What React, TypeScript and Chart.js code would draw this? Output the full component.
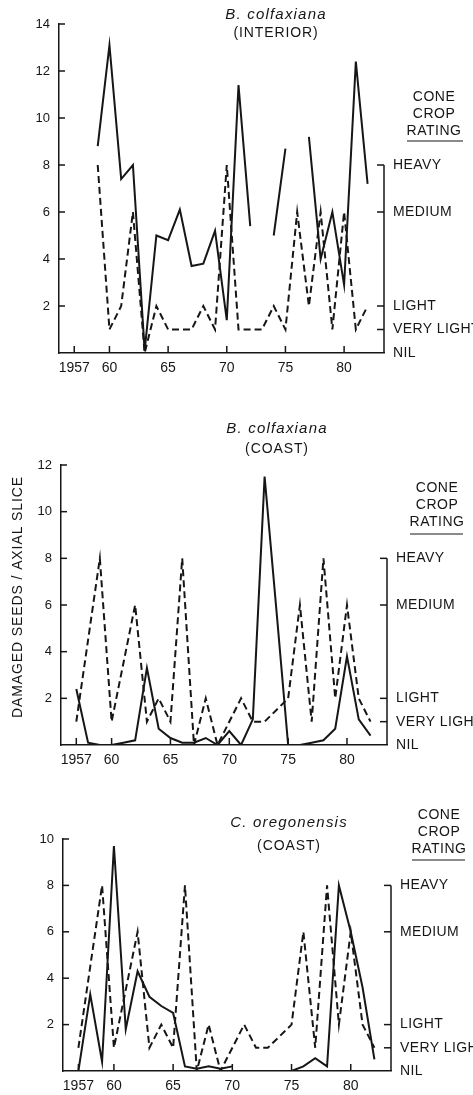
import React, { useEffect, useRef } from "react";
import { Chart, registerables } from "chart.js";
Chart.register(...registerables);

// ---- DATA ----
const years = [1957, 1958, 1959, 1960, 1961, 1962, 1963, 1964, 1965, 1966, 1967, 1968, 1969, 1970, 1971, 1972, 1973, 1974, 1975, 1976, 1977, 1978, 1979, 1980, 1981, 1982];
const xTickYears = [1957, 1960, 1965, 1970, 1975, 1980];
const cropRatingValues = [0, 1, 2, 6, 8];
const cropRatingLabels = ["NIL", "VERY LIGHT", "LIGHT", "MEDIUM", "HEAVY"];

// B. colfaxiana (interior): damaged seeds / axial slice (solid) and cone crop rating (dashed)
const interiorDamage = [null, null, 8.8, 13.1, 7.4, 8.0, 0.1, 5.0, 4.8, 6.1, 3.7, 3.8, 5.2, 1.4, 11.4, 5.4, null, 5.0, 8.7, null, 9.2, 4.0, 6.0, 2.9, 12.4, 7.2];
const interiorCrop = [null, null, 8, 1, 2, 6, 0, 2, 1, 1, 1, 2, 1, 8, 1, 1, 1, 2, 1, 6, 2, 6, 1, 6, 1, 2];

// B. colfaxiana (coast)
const coastDamage = [2.4, 0.1, 0, 0, 0.1, 0.2, 3.3, 0.7, 0.3, 0.1, 0.1, 0.3, 0, 0.6, 0, 1.1, 11.5, 5.8, 0, 0, 0.1, 0.2, 0.7, 3.8, 1.1, 0.4];
const coastCrop = [1, null, 8, 1, null, 6, 1, 2, 1, 8, 0, 2, 0, null, 2, 1, 1, null, 2, 6, 1, 8, 2, 6, 2, 1];

// C. oregonensis (coast)
const oregonDamage = [0, 3.3, 0.4, 9.7, 1.8, 4.3, 3.2, 2.8, 2.5, 0.2, 0.1, 0.2, 0.1, 0.2, null, 0, 0, 0, 0, 0.2, 0.55, 0.2, 8.0, 6.0, 3.6, 0.5];
const oregonCrop = [1, null, 8, 1, null, 6, 1, 2, 1, 8, 0, 2, 0, null, 2, 1, 1, null, 2, 6, 1, 8, 2, 6, 2, 1];

const titles1 = ["B. colfaxiana", "(INTERIOR)"];
const titles2 = ["B. colfaxiana", "(COAST)"];
const titles3 = ["C. oregonensis", "(COAST)"];
const coneLabel = ["CONE", "CROP", "RATING"];
const yAxisTitle = "DAMAGED SEEDS / AXIAL SLICE";

const FONT = '"Liberation Sans", Arial, Helvetica, sans-serif';
const INK = "#161616";

type Panel = {
  top: number; height: number; left: number; right: number; yTop: number; yZero: number; yMax: number;
  titles: string[]; titleX: number; titleY: number[]; coneX: number; coneY: number[]; ulY: number; ulX: number[];
  damage: (number | null)[]; crop: (number | null)[]; yTitle?: { x: number; y: number };
};

const panels: Panel[] = [
  { top: 0, height: 380, left: 59, right: 384, yTop: 24, yZero: 353, yMax: 14, titles: titles1, titleX: 276, titleY: [15, 33], coneX: 434, coneY: [97, 114, 131], ulY: 141, ulX: [407, 463], damage: interiorDamage, crop: interiorCrop },
  { top: 380, height: 385, left: 61, right: 387, yTop: 85, yZero: 365, yMax: 12, titles: titles2, titleX: 277, titleY: [49, 69], coneX: 437, coneY: [108, 125, 142], ulY: 154, ulX: [410, 463], damage: coastDamage, crop: coastCrop, yTitle: { x: 18, y: 217 } },
  { top: 765, height: 330, left: 63, right: 391, yTop: 74, yZero: 306, yMax: 10, titles: titles3, titleX: 289, titleY: [58, 81], coneX: 439, coneY: [50, 67, 84], ulY: 95, ulX: [412, 465], damage: oregonDamage, crop: oregonCrop },
];

const toPts = (arr: (number | null)[]) => years.map((yr, i) => ({ x: yr, y: arr[i] }));

function PanelChart({ p }: { p: Panel }) {
  const ref = useRef<HTMLCanvasElement | null>(null);
  useEffect(() => {
    if (!ref.current) return;
    const decor = {
      id: "decor",
      afterDraw(chart: any) {
        const ctx = chart.ctx;
        const xs = chart.scales.x;
        const ys = chart.scales.y;
        const area = chart.chartArea;
        ctx.save();
        ctx.strokeStyle = INK;
        ctx.fillStyle = INK;
        ctx.lineWidth = 1.5;
        // inward ticks on left axis
        for (let v = 2; v <= p.yMax; v += 2) {
          const y = ys.getPixelForValue(v);
          ctx.beginPath();
          ctx.moveTo(area.left, y);
          ctx.lineTo(area.left + 6, y);
          ctx.stroke();
        }
        // inward ticks on x axis
        xTickYears.forEach((yr) => {
          const x = xs.getPixelForValue(yr);
          ctx.beginPath();
          ctx.moveTo(x, area.bottom);
          ctx.lineTo(x, area.bottom - 7);
          ctx.stroke();
        });
        // right cone crop bracket
        const rx = area.right;
        ctx.beginPath();
        ctx.moveTo(rx, ys.getPixelForValue(8));
        ctx.lineTo(rx, ys.getPixelForValue(0));
        ctx.stroke();
        ctx.font = `14px ${FONT}`;
        ctx.letterSpacing = "0.4px";
        ctx.textAlign = "left";
        ctx.textBaseline = "middle";
        cropRatingValues.forEach((v, i) => {
          const y = ys.getPixelForValue(v);
          if (v > 0) {
            ctx.beginPath();
            ctx.moveTo(rx - 7, y);
            ctx.lineTo(rx, y);
            ctx.stroke();
          }
          ctx.fillText(cropRatingLabels[i], rx + 9, y);
        });
        // cone crop rating header
        ctx.letterSpacing = "0.5px";
        ctx.textAlign = "center";
        coneLabel.forEach((t, i) => ctx.fillText(t, p.coneX, p.coneY[i]));
        ctx.lineWidth = 1.2;
        ctx.beginPath();
        ctx.moveTo(p.ulX[0], p.ulY);
        ctx.lineTo(p.ulX[1], p.ulY);
        ctx.stroke();
        // titles
        ctx.font = `italic 15px ${FONT}`;
        ctx.letterSpacing = "1.2px";
        ctx.fillText(p.titles[0], p.titleX, p.titleY[0]);
        ctx.font = `14px ${FONT}`;
        ctx.letterSpacing = "0.9px";
        ctx.fillText(p.titles[1], p.titleX, p.titleY[1]);
        // y axis title
        if (p.yTitle) {
          ctx.save();
          ctx.translate(p.yTitle.x, p.yTitle.y);
          ctx.rotate(-Math.PI / 2);
          ctx.font = `14px ${FONT}`;
          ctx.letterSpacing = "0.9px";
          ctx.textAlign = "center";
          ctx.fillText(yAxisTitle, 0, 0);
          ctx.restore();
        }
        ctx.restore();
      },
    };
    const chart = new Chart(ref.current, {
      type: "line",
      data: {
        datasets: [
          { label: "Damaged seeds / axial slice", data: toPts(p.damage), borderColor: INK, borderWidth: 2, pointRadius: 0, tension: 0, spanGaps: false },
          { label: "Cone crop rating", data: toPts(p.crop), borderColor: INK, borderWidth: 2, borderDash: [7, 4], pointRadius: 0, tension: 0, spanGaps: true },
        ],
      },
      options: {
        animation: false,
        responsive: false,
        events: [],
        layout: { padding: { top: p.yTop, left: 0, right: 473 - p.right, bottom: 0 } },
        plugins: { legend: { display: false }, tooltip: { enabled: false }, title: { display: false } },
        scales: {
          x: {
            type: "linear",
            min: 1955.7,
            max: 1983.4,
            afterFit: (s: any) => { s.height = p.height - p.yZero; },
            afterBuildTicks: (s: any) => { s.ticks = xTickYears.map((v) => ({ value: v })); },
            grid: { display: false, drawTicks: false },
            border: { display: true, color: INK, width: 1.5 },
            ticks: {
              padding: 7,
              color: INK,
              font: { family: FONT, size: 14 },
              maxRotation: 0,
              autoSkip: false,
              callback: (v: any) => (v === 1957 ? "1957" : String(v).slice(2)),
            },
          },
          y: {
            type: "linear",
            min: 0,
            max: p.yMax,
            afterFit: (s: any) => { s.width = p.left; },
            grid: { display: false, drawTicks: false },
            border: { display: true, color: INK, width: 1.5 },
            ticks: {
              stepSize: 2,
              padding: 9,
              color: INK,
              font: { family: FONT, size: 13 },
              callback: (v: any) => (v === 0 ? "" : String(v)),
            },
          },
        },
      },
      plugins: [decor],
    } as any);
    return () => chart.destroy();
  }, [p]);
  return (
    <div style={{ position: "absolute", left: 0, top: p.top, width: 473, height: p.height }}>
      <canvas ref={ref} width={473} height={p.height} style={{ display: "block", width: 473, height: p.height }} />
    </div>
  );
}

export default function App() {
  return (
    <div style={{ position: "absolute", left: 0, top: 0, width: 473, height: 1095, overflow: "hidden", background: "#fff" }}>
      {panels.map((p, i) => (
        <PanelChart key={i} p={p} />
      ))}
    </div>
  );
}
